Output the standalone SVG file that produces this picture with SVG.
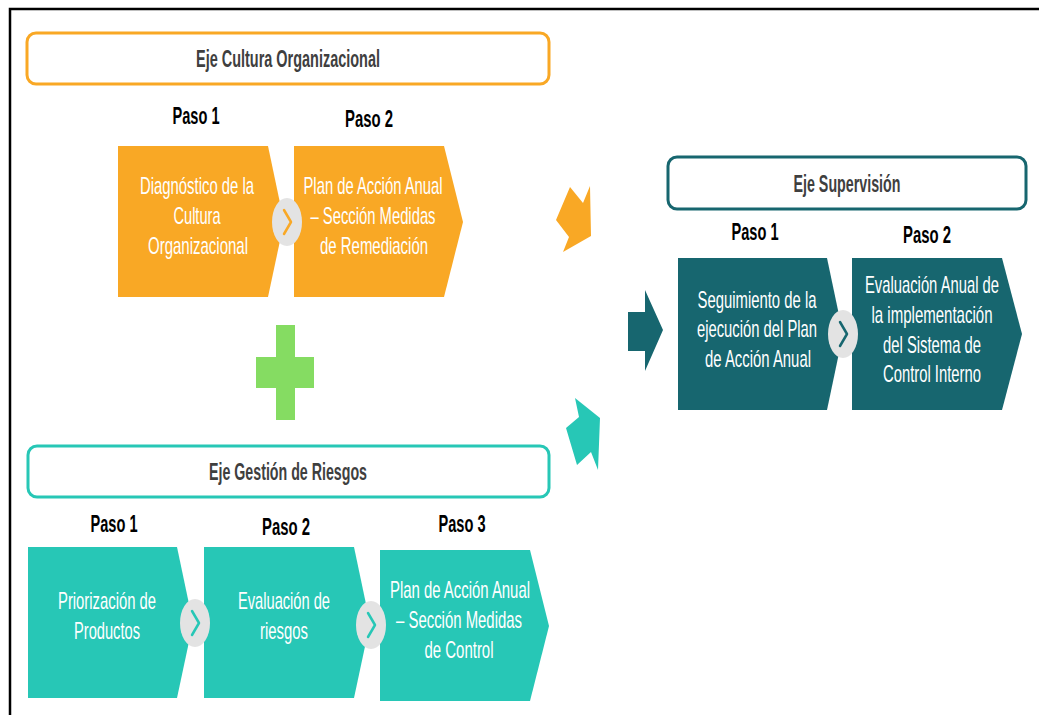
<svg xmlns="http://www.w3.org/2000/svg" width="1039" height="715" viewBox="0 0 1039 715">
  <defs>
    <style>
      .frame { stroke: #000; stroke-width: 2.5; fill: none; }
      .axis { fill: #fff; stroke-width: 3; }
      .axis-title { font-family: "Liberation Sans", Arial, sans-serif; font-weight: bold; font-size: 24px; fill: #3f3f3f; text-anchor: middle; }
      .step { font-family: "Liberation Sans", Arial, sans-serif; font-weight: bold; font-size: 24px; fill: #000; text-anchor: middle; }
      .body { font-family: "Liberation Sans", Arial, sans-serif; font-size: 24px; fill: #fff; text-anchor: middle; }
      .orange { fill: #f9a825; }
      .teal { fill: #27c7b6; }
      .dark { fill: #17666f; }
      .knob { fill: #e3e3e3; }
      .tick { fill: none; stroke-width: 2.5; stroke-linecap: round; stroke-linejoin: round; }
    </style>
  </defs>

  <rect width="1039" height="715" fill="#fff"/>

  <!-- outer frame: top and left edges only -->
  <path class="frame" d="M10,715 V9 H1039"/>

  <!-- Cultura Organizacional axis -->
  <g id="axis-cultura">
    <rect class="axis" x="27" y="33" width="522" height="51" rx="9" stroke="#f9a825"/>
    <text class="axis-title" x="288" y="67" textLength="184" lengthAdjust="spacingAndGlyphs">Eje Cultura Organizacional</text>
  </g>
  <g id="cultura-paso1">
    <text class="step" x="196" y="124" textLength="47" lengthAdjust="spacingAndGlyphs">Paso 1</text>
    <path class="orange" d="M118,146 H268 L284,222 L268,297 H118 Z"/>
    <text class="body" x="197" y="194" textLength="114" lengthAdjust="spacingAndGlyphs">Diagnóstico de la</text>
    <text class="body" x="197" y="224" textLength="47" lengthAdjust="spacingAndGlyphs">Cultura</text>
    <text class="body" x="198" y="254" textLength="100" lengthAdjust="spacingAndGlyphs">Organizacional</text>
  </g>
  <g id="cultura-paso2">
    <text class="step" x="369" y="127" textLength="48" lengthAdjust="spacingAndGlyphs">Paso 2</text>
    <path class="orange" d="M294,146 H444 L463,222 L444,297 H294 Z"/>
    <text class="body" x="373" y="194" textLength="139" lengthAdjust="spacingAndGlyphs">Plan de Acción Anual</text>
    <text class="body" x="373" y="224" textLength="125" lengthAdjust="spacingAndGlyphs">– Sección Medidas</text>
    <text class="body" x="374" y="254" textLength="108" lengthAdjust="spacingAndGlyphs">de Remediación</text>
  </g>

  <!-- plus sign joining the two left axes -->
  <g id="plus">
    <path fill="#85dc62" d="M276,325 H295 V357 H314 V388 H295 V420 H276 V388 H256 V357 H276 Z"/>
  </g>

  <!-- Gestión de Riesgos axis -->
  <g id="axis-riesgos">
    <rect class="axis" x="28" y="446" width="521" height="51" rx="9" stroke="#27c7b6"/>
    <text class="axis-title" x="288" y="480" textLength="158" lengthAdjust="spacingAndGlyphs">Eje Gestión de Riesgos</text>
  </g>
  <g id="riesgos-paso1">
    <text class="step" x="114" y="532" textLength="47" lengthAdjust="spacingAndGlyphs">Paso 1</text>
    <path class="teal" d="M28,547 H177 L193,623 L177,698 H28 Z"/>
    <text class="body" x="107" y="609" textLength="98" lengthAdjust="spacingAndGlyphs">Priorización de</text>
    <text class="body" x="107" y="639" textLength="66" lengthAdjust="spacingAndGlyphs">Productos</text>
  </g>
  <g id="riesgos-paso2">
    <text class="step" x="286" y="535" textLength="48" lengthAdjust="spacingAndGlyphs">Paso 2</text>
    <path class="teal" d="M204,547 H354 L370,623 L354,698 H204 Z"/>
    <text class="body" x="284" y="609" textLength="92" lengthAdjust="spacingAndGlyphs">Evaluación de</text>
    <text class="body" x="284" y="639" textLength="48" lengthAdjust="spacingAndGlyphs">riesgos</text>
  </g>
  <g id="riesgos-paso3">
    <text class="step" x="462" y="532" textLength="47" lengthAdjust="spacingAndGlyphs">Paso 3</text>
    <path class="teal" d="M380,550 H530 L549,626 L530,701 H380 Z"/>
    <text class="body" x="460" y="598" textLength="140" lengthAdjust="spacingAndGlyphs">Plan de Acción Anual</text>
    <text class="body" x="459" y="628" textLength="126" lengthAdjust="spacingAndGlyphs">– Sección Medidas</text>
    <text class="body" x="459" y="658" textLength="69" lengthAdjust="spacingAndGlyphs">de Control</text>
  </g>

  <!-- Supervisión axis -->
  <g id="axis-supervision">
    <rect class="axis" x="668" y="157" width="358" height="52" rx="9" stroke="#17666f"/>
    <text class="axis-title" x="847" y="192" textLength="107" lengthAdjust="spacingAndGlyphs">Eje Supervisión</text>
  </g>
  <g id="supervision-paso1">
    <text class="step" x="755" y="240" textLength="47" lengthAdjust="spacingAndGlyphs">Paso 1</text>
    <path class="dark" d="M678,258 H827 L843,334 L827,410 H678 Z"/>
    <text class="body" x="757" y="308" textLength="119" lengthAdjust="spacingAndGlyphs">Seguimiento de la</text>
    <text class="body" x="757" y="337" textLength="120" lengthAdjust="spacingAndGlyphs">ejecución del Plan</text>
    <text class="body" x="758" y="367" textLength="106" lengthAdjust="spacingAndGlyphs">de Acción Anual</text>
  </g>
  <g id="supervision-paso2">
    <text class="step" x="927" y="243" textLength="48" lengthAdjust="spacingAndGlyphs">Paso 2</text>
    <path class="dark" d="M852,258 H1002 L1022,334 L1002,410 H852 Z"/>
    <text class="body" x="932" y="293" textLength="134" lengthAdjust="spacingAndGlyphs">Evaluación Anual de</text>
    <text class="body" x="932" y="323" textLength="121" lengthAdjust="spacingAndGlyphs">la implementación</text>
    <text class="body" x="932" y="353" textLength="98" lengthAdjust="spacingAndGlyphs">del Sistema de</text>
    <text class="body" x="932" y="382" textLength="98" lengthAdjust="spacingAndGlyphs">Control Interno</text>
  </g>

  <!-- connectors: step knobs and block arrows toward Supervisión -->
  <g id="connectors">
    <ellipse class="knob" cx="287" cy="222" rx="15" ry="24"/>
    <path class="tick" stroke="#f9a825" d="M284,210 L291,222 L284,234"/>

    <ellipse class="knob" cx="195" cy="623" rx="15" ry="24"/>
    <path class="tick" stroke="#27c7b6" d="M192,611 L199,623 L192,635"/>
    <ellipse class="knob" cx="371" cy="625" rx="15" ry="24"/>
    <path class="tick" stroke="#27c7b6" d="M368,613 L375,625 L368,637"/>

    <ellipse class="knob" cx="843" cy="334" rx="15" ry="24"/>
    <path class="tick" stroke="#17666f" d="M840,322 L847,334 L840,346"/>

    <polygon class="orange" points="570,187 583,203 590,186 591,236 563,252 569,237 556,220"/>
    <polygon class="dark" points="628,312 645,312 645,290 663,330 645,371 645,351 628,351"/>
    <polygon class="teal" points="575,398 600,418 598,470 591,452 577,465 566,428 579,417"/>
  </g>
</svg>
